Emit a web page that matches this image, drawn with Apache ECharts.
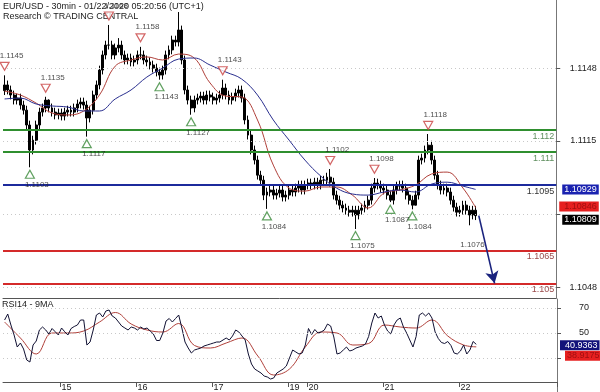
<!DOCTYPE html>
<html><head><meta charset="utf-8">
<script src="https://cdn.jsdelivr.net/npm/echarts@6/dist/echarts.min.js"></script>
<style>html,body{margin:0;padding:0;background:#fff}#c{width:600px;height:392px}</style>
</head><body><div id="c"></div>
<script>
// ---------- DATA ----------
const dayLabels = ['14','15','16','17','19','20','21','22'];
const dayFirstHour = [6,0,0,0,18,0,0,0];
const dayBarCount = [18,24,24,24,6,24,24,6];
const padBars = 25;

const firstOpen = 1.11380;
const closes = [1.11406,1.11383,1.11360,1.11337,1.11346,1.11314,1.11291,1.11223,1.11109,1.11154,
1.11223,1.11282,1.11301,1.11337,1.11301,1.11282,1.11269,1.11278,1.11264,1.11282,
1.11291,1.11282,1.11301,1.11319,1.11328,1.11314,1.11255,1.11291,1.11360,1.11406,
1.11474,1.11543,1.11588,1.11588,1.11543,1.11575,1.11588,1.11543,1.11520,1.11529,
1.11511,1.11520,1.11543,1.11543,1.11520,1.11511,1.11497,1.11483,1.11465,1.11451,
1.11474,1.11543,1.11566,1.11611,1.11602,1.11657,1.11520,1.11383,1.11337,1.11301,
1.11337,1.11346,1.11355,1.11337,1.11360,1.11351,1.11337,1.11346,1.11360,1.11392,
1.11360,1.11337,1.11351,1.11369,1.11383,1.11346,1.11246,1.11177,1.11109,1.11063,
1.10994,1.10971,1.10903,1.10917,1.10926,1.10903,1.10912,1.10926,1.10894,1.10903,
1.10926,1.10917,1.10935,1.10949,1.10926,1.10949,1.10958,1.10949,1.10962,1.10949,
1.10971,1.10971,1.10985,1.10962,1.10903,1.10880,1.10857,1.10844,1.10834,1.10825,
1.10834,1.10812,1.10834,1.10844,1.10857,1.10880,1.10935,1.10958,1.10949,1.10935,
1.10926,1.10903,1.10880,1.10926,1.10944,1.10949,1.10935,1.10903,1.10880,1.10857,
1.10903,1.11063,1.11072,1.11109,1.11131,1.11063,1.10994,1.10949,1.10926,1.10935,
1.10917,1.10880,1.10848,1.10825,1.10834,1.10857,1.10834,1.10812,1.10834,1.10809];
const highs = [1.11450,1.11426,1.11403,1.11380,1.11366,1.11366,1.11334,1.11311,1.11243,1.11174,
1.11243,1.11302,1.11321,1.11352,1.11340,1.11321,1.11302,1.11298,1.11298,1.11302,
1.11311,1.11311,1.11321,1.11339,1.11348,1.11348,1.11334,1.11311,1.11380,1.11426,
1.11494,1.11563,1.11608,1.11680,1.11608,1.11595,1.11620,1.11608,1.11563,1.11549,
1.11549,1.11540,1.11563,1.11580,1.11563,1.11540,1.11531,1.11517,1.11503,1.11485,
1.11494,1.11563,1.11586,1.11631,1.11631,1.11739,1.11677,1.11540,1.11403,1.11357,
1.11357,1.11366,1.11375,1.11375,1.11380,1.11380,1.11371,1.11366,1.11380,1.11430,
1.11412,1.11380,1.11371,1.11389,1.11403,1.11403,1.11366,1.11266,1.11197,1.11129,
1.11083,1.11014,1.10991,1.10937,1.10946,1.10946,1.10932,1.10946,1.10946,1.10923,
1.10946,1.10946,1.10955,1.10969,1.10969,1.10969,1.10978,1.10978,1.10982,1.10982,
1.10991,1.10991,1.11005,1.11022,1.10982,1.10923,1.10900,1.10877,1.10864,1.10854,
1.10854,1.10854,1.10854,1.10864,1.10877,1.10900,1.10955,1.10981,1.10978,1.10969,
1.10955,1.10946,1.10923,1.10946,1.10964,1.10969,1.10969,1.10955,1.10923,1.10900,
1.10923,1.11083,1.11092,1.11129,1.11182,1.11151,1.11083,1.11014,1.10969,1.10955,
1.10955,1.10937,1.10900,1.10868,1.10854,1.10877,1.10877,1.10854,1.10854,1.10854];
const lows = [1.11360,1.11363,1.11340,1.11317,1.11317,1.11294,1.11271,1.11203,1.11030,1.11089,
1.11134,1.11203,1.11262,1.11281,1.11281,1.11262,1.11249,1.11249,1.11244,1.11244,
1.11262,1.11262,1.11262,1.11281,1.11299,1.11294,1.11170,1.11235,1.11271,1.11340,
1.11386,1.11454,1.11523,1.11568,1.11523,1.11523,1.11555,1.11523,1.11500,1.11500,
1.11491,1.11491,1.11500,1.11523,1.11500,1.11491,1.11477,1.11463,1.11445,1.11430,
1.11431,1.11454,1.11523,1.11546,1.11582,1.11582,1.11500,1.11363,1.11317,1.11270,
1.11281,1.11317,1.11326,1.11317,1.11317,1.11331,1.11317,1.11317,1.11326,1.11340,
1.11340,1.11317,1.11317,1.11331,1.11349,1.11326,1.11226,1.11157,1.11089,1.11043,
1.10974,1.10951,1.10880,1.10840,1.10897,1.10883,1.10883,1.10892,1.10874,1.10874,
1.10883,1.10897,1.10897,1.10915,1.10906,1.10906,1.10929,1.10929,1.10929,1.10929,
1.10929,1.10951,1.10951,1.10942,1.10883,1.10860,1.10837,1.10824,1.10814,1.10805,
1.10805,1.10748,1.10792,1.10814,1.10824,1.10837,1.10860,1.10915,1.10929,1.10915,
1.10906,1.10883,1.10871,1.10860,1.10906,1.10924,1.10915,1.10883,1.10860,1.10838,
1.10860,1.10883,1.11043,1.11052,1.11089,1.11043,1.10974,1.10929,1.10906,1.10906,
1.10897,1.10860,1.10828,1.10805,1.10805,1.10814,1.10814,1.10765,1.10792,1.10789];

// moving averages, sampled at these bar indices
const maIdx = [0,5,10,15,20,25,30,35,40,45,50,55,60,65,70,75,80,85,90,95,100,105,110,115,120,125,130,135,140,145,149];
const redMA = [1.11378,1.11360,1.11323,1.11278,1.11269,1.11287,1.11360,1.11492,1.11520,1.11534,1.11520,1.11547,1.11529,1.11415,1.11355,1.11351,1.11246,1.11040,1.10935,1.10921,1.10940,1.10940,1.10903,1.10844,1.10912,1.10926,1.10949,1.10999,1.11008,1.10935,1.10846];
const blueMA = [1.11342,1.11346,1.11319,1.11310,1.11305,1.11287,1.11287,1.11342,1.11383,1.11442,1.11483,1.11524,1.11529,1.11497,1.11465,1.11433,1.11360,1.11246,1.11154,1.11063,1.10990,1.10935,1.10908,1.10903,1.10917,1.10926,1.10917,1.10953,1.10962,1.10944,1.10929];

const rsi = [60.4,65.2,56.4,48.4,38.8,42,37.2,28.4,26.8,40.4,
43.6,52.4,54.8,52.4,49.2,53.6,51,48.4,54,51,
48.4,53.6,55.2,56.4,60.4,60.4,40.4,42.8,52.4,64.4,
66,62.8,67.6,68.4,63.6,62,58.8,55.6,54,52.4,
54.8,54,52.4,54.8,53.2,54,51.6,49.2,44,44,
50,59.6,61.6,58.8,61.6,64.4,54,42.8,38,34,
36.4,37.2,38,39.6,40.4,41.2,42,42.8,42.8,44.4,
46,44.4,47.6,52.4,50.8,47.6,44.4,33.2,25.2,21.2,
19.6,18,15.6,14.8,13.2,14,18,19.6,21.2,23.6,
30,36.4,34.8,33.2,34,40.4,53.6,48.8,52.8,50,
50.8,52.4,57.2,55.6,46.8,33.2,34,36.4,38.8,35.6,
36.4,38,38.8,39.6,41.2,47.2,58,66,62,63.6,
56.4,51.6,49.2,56.4,60.4,62,54.8,50,44.4,38.8,
47.2,64.4,66,63.6,66,62,50.8,45.6,42.4,41.6,
43.2,40,34,33.2,35.6,40.4,33.2,36.4,43.2,40.9363];
const rsiMA = [58.8,46,33.2,50,50,51.6,58.8,66.4,57.2,52.4,50.8,57.6,40,38,42,46,31.6,16.4,21.2,38.8,50.8,50,40.4,41.6,56.4,54.8,54,60.4,47.6,40.4,38.9175];

// swing markers
const highIdx = [0,13,33,43,69,103,117,134];
const highVal = [1.1145,1.1135,1.1168,1.1158,1.1143,1.1102,1.1098,1.1118];
const lowIdx = [8,26,49,59,83,111,122,129];
const lowVal = [1.1103,1.1117,1.1143,1.1127,1.1084,1.1075,1.1087,1.1084];
const noteIdx = [148];
const noteVal = [1.1076];

// levels
const levels = [1.112, 1.111, 1.1095, 1.1065, 1.105];
const levelColors = ['#2f8f2f','#2f8f2f','#1c2a9c','#d42a2a','#d42a2a'];
const levelTextColors = ['#5f8f5f','#5f8f5f','#333333','#9a4a4a','#9a4a4a'];
const targetFrom = [150, 1.10809];
const targetTo = [155, 1.1050];

// axis ticks
const priceTicks = [1.11483, 1.11150, 1.10817, 1.10483];
const priceTickLabels = [1.11483, 1.11150, 1.10483];   // 1.1082 is hidden under the value boxes
const rsiTicks = [70, 50, 30];
const rsiTickLabels = [70, 50];
const priceMin = 1.10433, priceMax = 1.11794;
const rsiMin = 10.8, rsiMax = 77.2;

// ---------- BUILD ----------
const FONT = 'Liberation Sans, Arial, sans-serif';
const cats = []; const dayStart = new Set();
dayLabels.forEach((d, di) => {
  if (di > 0) dayStart.add(cats.length);
  for (let k = 0; k < dayBarCount[di]; k++) cats.push(d + ' ' + String(dayFirstHour[di] + k).padStart(2, '0') + ':00');
});
for (let k = 0; k < padBars; k++) cats.push('pad' + k);

const ohlc = closes.map((c, i) => [i === 0 ? firstOpen : closes[i - 1], c, lows[i], highs[i]]);
const pair = (idx, vals) => idx.map((x, k) => [x, vals[k]]);
const lastClose = closes[closes.length - 1];

const priceMarkLines = [];
priceTicks.forEach(v => priceMarkLines.push({yAxis: v, lineStyle: {color: '#c8c8c8', type: [1, 3], width: 1}, label: {show: false}}));
levels.forEach((v, k) => priceMarkLines.push({
  yAxis: v, lineStyle: {color: levelColors[k], type: 'solid', width: 2},
  label: {show: true, position: 'insideEndBottom', formatter: String(v), color: levelTextColors[k], fontSize: 9, fontFamily: FONT, distance: 2}
}));
priceMarkLines.push({yAxis: lastClose, lineStyle: {color: 'transparent'},
  label: {show: true, position: 'end', distance: 6, formatter: lastClose.toFixed(5), color: '#fff', backgroundColor: '#000', padding: [1, 2, 0, 2], fontSize: 9, fontFamily: FONT, offset: [0, 4]}});
priceMarkLines.push([{coord: targetFrom, symbol: 'none'}, {coord: targetTo, symbol: 'arrow', symbolSize: [10, 12],
  lineStyle: {color: '#1a237e', width: 1.6, type: 'solid'}, label: {show: false}}]);

const option = {
  animation: false,
  backgroundColor: '#fff',
  grid: [
    {left: 3, right: 43, top: 0, height: 298},
    {left: 3, right: 43, top: 299, height: 83}
  ],
  xAxis: [
    {type: 'category', gridIndex: 0, data: cats, boundaryGap: true,
      axisLine: {show: true, lineStyle: {color: '#555', width: 1}}, axisTick: {show: false}, axisLabel: {show: false}, splitLine: {show: false}},
    {type: 'category', gridIndex: 1, data: cats, boundaryGap: true,
      axisLine: {show: true, lineStyle: {color: '#555', width: 1}},
      axisTick: {show: true, length: 5, lineStyle: {color: '#555'}, interval: (i) => dayStart.has(i)},
      axisLabel: {show: true, interval: (i) => dayStart.has(i), formatter: (v) => v.split(' ')[0], align: 'left', margin: 1, color: '#222', fontSize: 9, fontFamily: FONT},
      splitLine: {show: false}}
  ],
  yAxis: [
    {type: 'value', gridIndex: 0, position: 'right', min: priceMin, max: priceMax,
      axisLine: {show: true, lineStyle: {color: '#777'}},
      axisTick: {show: true, length: 4, customValues: priceTicks, lineStyle: {color: '#555'}},
      axisLabel: {show: true, customValues: priceTickLabels, formatter: v => v.toFixed(4), align: 'center', margin: 27, color: '#222', fontSize: 9, fontFamily: FONT},
      splitLine: {show: false}},
    {type: 'value', gridIndex: 1, position: 'right', min: rsiMin, max: rsiMax,
      axisLine: {show: true, lineStyle: {color: '#777'}},
      axisTick: {show: true, length: 4, customValues: rsiTicks, lineStyle: {color: '#555'}},
      axisLabel: {show: true, customValues: rsiTickLabels, formatter: v => String(Math.round(v)), align: 'center', margin: 27, color: '#222', fontSize: 9, fontFamily: FONT},
      splitLine: {show: false}}
  ],
  graphic: [
    {type: 'text', left: 3, top: 2, style: {text: 'EUR/USD - 30min - 01/22/2020 05:20:56 (UTC+1)', font: '9px ' + FONT, fill: '#222'}},
    {type: 'text', left: 3, top: 12, style: {text: 'Research \u00A9 TRADING CENTRAL', font: '9px ' + FONT, fill: '#222'}},
    {type: 'text', left: 2, top: 300, style: {text: 'RSI14 - 9MA', font: '9px ' + FONT, fill: '#222'}},
    {type: 'line', shape: {x1: 557.5, y1: 382, x2: 557.5, y2: 392}, style: {stroke: '#777', lineWidth: 1}}
  ],
  series: [
    {type: 'candlestick', name: 'EUR/USD', xAxisIndex: 0, yAxisIndex: 0, data: ohlc, barWidth: 2.4,
      itemStyle: {color: '#000', color0: '#000', borderColor: '#000', borderColor0: '#000', borderWidth: 1},
      markLine: {silent: true, symbol: 'none', precision: 5, animation: false, data: priceMarkLines}},
    {type: 'line', name: 'MA fast', xAxisIndex: 0, yAxisIndex: 0, data: pair(maIdx, redMA), smooth: 0.4, showSymbol: false,
      lineStyle: {color: '#b0403a', width: 1}, z: 3,
      markLine: {silent: true, symbol: 'none', precision: 5, data: [{yAxis: redMA[redMA.length - 1], lineStyle: {color: 'transparent'},
        label: {show: true, position: 'end', distance: 3, formatter: redMA[redMA.length - 1].toFixed(5), color: '#a01010', backgroundColor: '#e62020', padding: [1, 2, 0, 5], fontSize: 9, fontFamily: FONT, offset: [0, -1]}}]}},
    {type: 'line', name: 'MA slow', xAxisIndex: 0, yAxisIndex: 0, data: pair(maIdx, blueMA), smooth: 0.4, showSymbol: false,
      lineStyle: {color: '#2a2f8f', width: 1}, z: 3,
      markLine: {silent: true, symbol: 'none', precision: 5, data: [{yAxis: blueMA[blueMA.length - 1], lineStyle: {color: 'transparent'},
        label: {show: true, position: 'end', distance: 6, formatter: blueMA[blueMA.length - 1].toFixed(5), color: '#fff', backgroundColor: '#1a22b0', padding: [1, 2, 0, 2], fontSize: 9, fontFamily: FONT}}]}},
    {type: 'scatter', name: 'highs', xAxisIndex: 0, yAxisIndex: 0, data: pair(highIdx, highVal), z: 5,
      symbol: 'triangle', symbolRotate: 180, symbolSize: [9, 8], symbolOffset: [0, -9],
      itemStyle: {color: '#fff', borderColor: '#c84040', borderWidth: 1.2},
      label: {show: true, position: 'top', distance: 2, offset: [7, 0], formatter: p => p.value[1].toFixed(4), color: '#222', fontSize: 8, fontFamily: FONT}},
    {type: 'scatter', name: 'lows', xAxisIndex: 0, yAxisIndex: 0, data: pair(lowIdx, lowVal), z: 5,
      symbol: 'triangle', symbolSize: [9, 8], symbolOffset: [0, 7],
      itemStyle: {color: '#fff', borderColor: '#3a8a3a', borderWidth: 1.2},
      label: {show: true, position: 'bottom', distance: 2, offset: [7, 0], formatter: p => p.value[1].toFixed(4), color: '#222', fontSize: 8, fontFamily: FONT}},
    {type: 'scatter', name: 'note', xAxisIndex: 0, yAxisIndex: 0, data: pair(noteIdx, noteVal), z: 5,
      symbol: 'circle', symbolSize: 1, itemStyle: {color: 'transparent'},
      label: {show: true, position: 'bottom', distance: 14, formatter: p => p.value[1].toFixed(4), color: '#222', fontSize: 8, fontFamily: FONT}},
    {type: 'line', name: 'RSI14', xAxisIndex: 1, yAxisIndex: 1, data: rsi, showSymbol: false,
      lineStyle: {color: '#111133', width: 1}, z: 3,
      markLine: {silent: true, symbol: 'none', precision: 4, data: rsiTicks.map(v => ({yAxis: v, lineStyle: {color: '#c8c8c8', type: [1, 3], width: 1}, label: {show: false}})).concat([
        {yAxis: rsi[rsi.length - 1], lineStyle: {color: 'transparent'},
          label: {show: true, position: 'end', distance: 3, formatter: rsi[rsi.length - 1].toFixed(4), color: '#fff', backgroundColor: '#12127a', padding: [1, 2, 0, 5], fontSize: 9, fontFamily: FONT, offset: [0, 1]}}])}},
    {type: 'line', name: '9MA', xAxisIndex: 1, yAxisIndex: 1, data: pair(maIdx, rsiMA), smooth: 0.4, showSymbol: false,
      lineStyle: {color: '#b0403a', width: 1}, z: 2,
      markLine: {silent: true, symbol: 'none', precision: 4, data: [{yAxis: rsiMA[rsiMA.length - 1], lineStyle: {color: 'transparent'},
        label: {show: true, position: 'end', distance: 8, formatter: rsiMA[rsiMA.length - 1].toFixed(4), color: '#a01010', backgroundColor: '#e62020', padding: [1, 2, 0, 2], fontSize: 9, fontFamily: FONT, offset: [0, 9]}}]}}
  ]
};
const chart = echarts.init(document.getElementById('c'));
chart.setOption(option);
</script></body></html>
